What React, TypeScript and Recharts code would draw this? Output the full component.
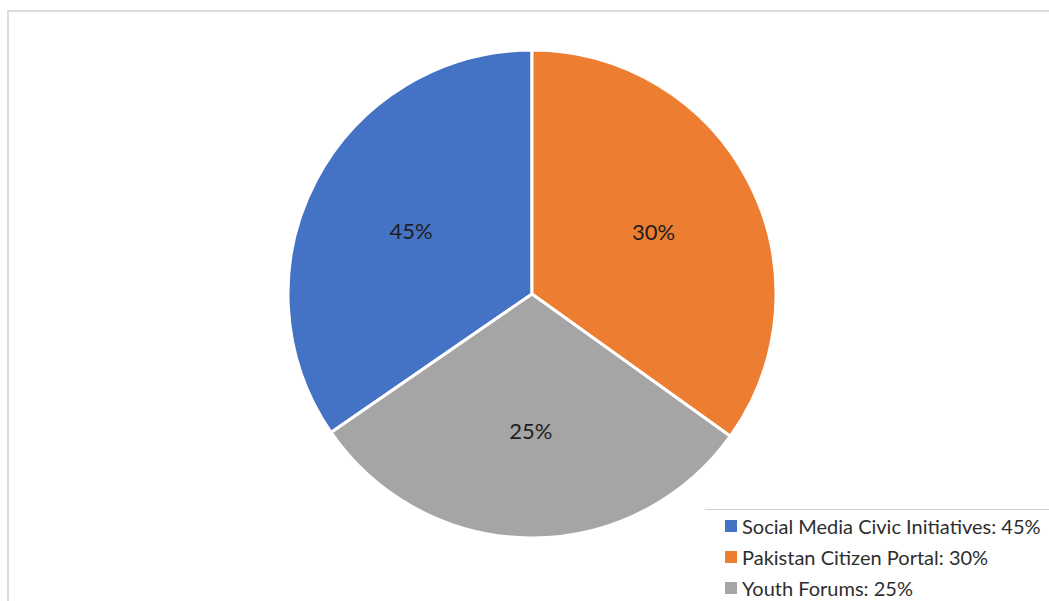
import { PieChart, Pie, Cell, Legend } from "recharts";

// Category names, the percentages printed on the chart, and the slice sizes
// as they are actually drawn in the reference (the drawn angles are close to
// equal thirds, not 45/30/25).
const categories = [
  "Social Media Civic Initiatives",
  "Pakistan Citizen Portal",
  "Youth Forums",
];
const printedPercents = [45, 30, 25];
const drawnShares = [34.6, 34.9, 30.5];
const colors = ["#4472C4", "#ED7D31", "#A5A5A5"];

const data = categories.map((name, i) => ({
  name,
  value: drawnShares[i],
  pct: printedPercents[i],
  fill: colors[i],
}));

const total = drawnShares.reduce((a, b) => a + b, 0);
// first slice (blue) ends at 12 o'clock, the rest go clockwise from there
const startAngle = 90 + (360 * drawnShares[0]) / total;

const RADIAN = Math.PI / 180;

const renderLabel = (props: any) => {
  const { cx, cy, midAngle, outerRadius, index } = props;
  const r = outerRadius * 0.56;
  const x = cx + r * Math.cos(-midAngle * RADIAN);
  const y = cy + r * Math.sin(-midAngle * RADIAN);
  return (
    <text
      x={x}
      y={y}
      fill="#1e1e1e"
      fontSize={22}
      fontFamily="Lato, sans-serif"
      textAnchor="middle"
      dominantBaseline="central"
    >
      {printedPercents[index]}%
    </text>
  );
};

const renderLegend = () => (
  <div
    style={{
      borderTop: "1px solid #cfcfcf",
      paddingLeft: 20,
      fontFamily: "Lato, sans-serif",
      fontSize: 20,
      color: "#2e2e2e",
    }}
  >
    {data.map((d) => (
      <div
        key={d.name}
        style={{ display: "flex", alignItems: "center", height: 31 }}
      >
        <span
          style={{
            display: "inline-block",
            width: 12,
            height: 12,
            background: d.fill,
            marginRight: 5,
          }}
        />
        {d.name}: {d.pct}%
      </div>
    ))}
  </div>
);

export default function App() {
  return (
    <div
      style={{
        position: "absolute",
        left: 0,
        top: 0,
        width: 1049,
        height: 601,
        overflow: "hidden",
        background: "#fff",
      }}
    >
      {/* outer frame, only its top and left edges are visible */}
      <div
        style={{
          position: "absolute",
          left: 7,
          top: 10,
          width: 1100,
          height: 700,
          borderTop: "2px solid #dcdcdc",
          borderLeft: "2px solid #dcdcdc",
        }}
      />
      <PieChart
        width={1049}
        height={601}
        margin={{ top: 0, right: 0, bottom: 0, left: 0 }}
        style={{ position: "absolute", left: 0, top: 0 }}
      >
        <Pie
          data={data}
          dataKey="value"
          nameKey="name"
          cx={532}
          cy={294}
          outerRadius={244}
          startAngle={startAngle}
          endAngle={startAngle - 360}
          stroke="#fff"
          strokeWidth={3}
          label={renderLabel}
          labelLine={false}
          isAnimationActive={false}
        >
          {data.map((d) => (
            <Cell key={d.name} fill={d.fill} />
          ))}
        </Pie>
        <Legend
          content={renderLegend}
          wrapperStyle={{ left: 705, top: 509, width: 360 }}
        />
      </PieChart>
    </div>
  );
}
